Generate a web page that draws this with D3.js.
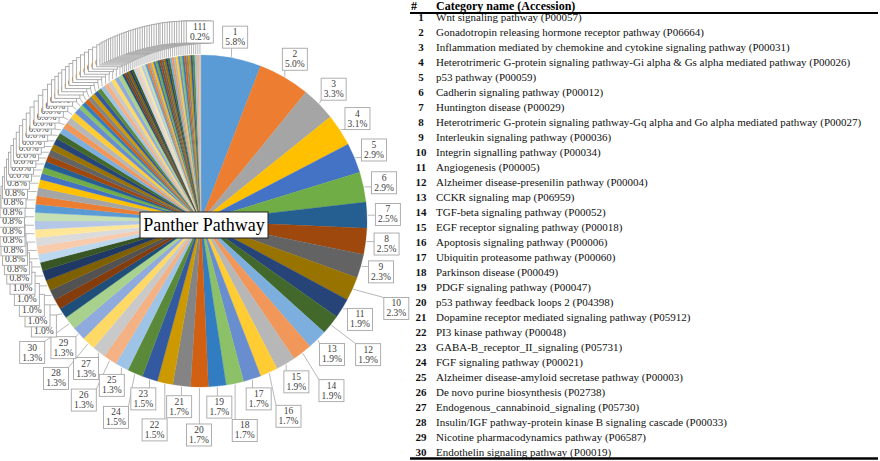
<!DOCTYPE html>
<html lang="en">
<head>
    <meta charset="utf-8">
    <script src="https://cdn.jsdelivr.net/npm/d3@7"></script>
    <style type="text/css">
        body { margin: 0; background: #fff; }
        svg { display: block; font-family: "Liberation Serif", "Times New Roman", serif; }
    </style>
</head>
<body>
    <script>
        // slice numbers 1..111, percentage of genes per pathway
        const sliceIds = d3.range(1, 112);
        const percents = [
            5.8, 5.0, 3.3, 3.1, 2.9, 2.9, 2.5, 2.5, 2.3, 2.3,
            1.9, 1.9, 1.9, 1.9, 1.9, 1.7, 1.7, 1.7, 1.7, 1.7,
            1.7, 1.5, 1.5, 1.5, 1.3, 1.3, 1.3, 1.3, 1.3, 1.3,
            1.0, 1.0, 1.0, 1.0, 1.0, 0.8, 0.8, 0.8, 0.8, 0.8,
            0.8, 0.8, 0.8, 0.8, 0.8, 0.8, 0.6, 0.6, 0.6, 0.6,
            0.6, 0.6, 0.6, 0.6, 0.6, 0.6, 0.6, 0.6, 0.6, 0.4,
            0.4, 0.4, 0.4, 0.4, 0.4, 0.4, 0.4, 0.4, 0.4, 0.4,
            0.4, 0.4, 0.2, 0.2, 0.2, 0.2, 0.2, 0.2, 0.2, 0.2,
            0.2, 0.2, 0.2, 0.2, 0.2, 0.2, 0.2, 0.2, 0.2, 0.2,
            0.2, 0.2, 0.2, 0.2, 0.2, 0.2, 0.2, 0.2, 0.2, 0.2,
            0.2, 0.2, 0.2, 0.2, 0.2, 0.2, 0.2, 0.2, 0.2, 0.2,
            0.2
        ];
        const tableIds = d3.range(1, 31);
        const pathwayNames = [
            "Wnt signaling pathway (P00057)",
            "Gonadotropin releasing hormone receptor pathway (P06664)",
            "Inflammation mediated by chemokine and cytokine signaling pathway (P00031)",
            "Heterotrimeric G-protein signaling pathway-Gi alpha & Gs alpha mediated pathway (P00026)",
            "p53 pathway (P00059)",
            "Cadherin signaling pathway (P00012)",
            "Huntington disease (P00029)",
            "Heterotrimeric G-protein signaling pathway-Gq alpha and Go alpha mediated pathway (P00027)",
            "Interleukin signaling pathway (P00036)",
            "Integrin signalling pathway (P00034)",
            "Angiogenesis (P00005)",
            "Alzheimer disease-presenilin pathway (P00004)",
            "CCKR signaling map (P06959)",
            "TGF-beta signaling pathway (P00052)",
            "EGF receptor signaling pathway (P00018)",
            "Apoptosis signaling pathway (P00006)",
            "Ubiquitin proteasome pathway (P00060)",
            "Parkinson disease (P00049)",
            "PDGF signaling pathway (P00047)",
            "p53 pathway feedback loops 2 (P04398)",
            "Dopamine receptor mediated signaling pathway (P05912)",
            "PI3 kinase pathway (P00048)",
            "GABA-B_receptor_II_signaling (P05731)",
            "FGF signaling pathway (P00021)",
            "Alzheimer disease-amyloid secretase pathway (P00003)",
            "De novo purine biosynthesis (P02738)",
            "Endogenous_cannabinoid_signaling (P05730)",
            "Insulin/IGF pathway-protein kinase B signaling cascade (P00033)",
            "Nicotine pharmacodynamics pathway (P06587)",
            "Endothelin signaling pathway (P00019)"
        ];

        // office chart colour cycle
        const palette = [
            "#5B9BD5", "#ED7D31", "#A5A5A5", "#FFC000", "#4472C4", "#70AD47",
            "#255E91", "#9E480E", "#636363", "#997300", "#264478", "#43682B",
            "#7CAFDD", "#F1975A", "#B7B7B7", "#FFCD33", "#698ED0", "#8CC168",
            "#327DC2", "#D26012", "#848484", "#CC9A00", "#335AA1", "#5A8A39",
            "#9DC3E6", "#F4B183", "#C9C9C9", "#FFD966", "#8FAADC", "#A9D18E",
            "#1F4E79", "#843C0C", "#525252", "#7F6000", "#203864", "#375623",
            "#BDD7EE", "#F8CBAD", "#DBDBDB", "#FFE699", "#B4C7E7", "#C5E0B4"
        ];

        let w = 880;
        let h = 461;
        let svg = d3.select("body")
                    .append("svg")
                    .attr("width", w)
                    .attr("height", h);

        let cx = 201, cy = 221, radius = 166;

        let pie = d3.pie().sort(null).value((d) => d.pct);
        let arcs = pie(sliceIds.map((id, i) => ({ id: id, pct: percents[i] })));
        let arc = d3.arc().innerRadius(0).outerRadius(radius);

        let g = svg.append("g").attr("transform", "translate(" + cx + "," + cy + ")");

        g.selectAll("path.slice")
            .data(arcs)
            .enter()
            .append("path")
            .attr("class", "slice")
            .attr("d", arc)
            .attr("fill", (d, i) => palette[i % palette.length])
            .attr("stroke", (d, i) => palette[i % palette.length])
            .attr("stroke-width", 0.3);

        // label radius: crowded labels alternate in / out, tiny ones stack
        let labelR = (i) => {
            if (i >= 30) return 189;
            if (i >= 9 && i % 2 === 1) return 214;
            return 187;
        };

        let bw = (i) => (i >= 99 ? 27 : 25);
        let bh = 22;

        let labels = arcs.map((d, i) => {
            let a = (d.startAngle + d.endAngle) / 2;
            let r = labelR(i);
            let x = Math.sin(a) * r, y = -Math.cos(a) * r;
            let ax = Math.sin(a) * (radius + 1), ay = -Math.cos(a) * (radius + 1);
            let x0 = x - bw(i) / 2, x1 = x + bw(i) / 2, y0 = y - bh / 2, y1 = y + bh / 2;
            let ex = Math.max(x0, Math.min(x1, ax));
            let ey = Math.max(y0, Math.min(y1, ay));
            return { d: d, i: i, x: x, y: y, ax: ax, ay: ay, ex: ex, ey: ey };
        });

        g.selectAll("line.leader")
            .data(labels)
            .enter()
            .append("line")
            .attr("class", "leader")
            .attr("x1", (l) => l.ax)
            .attr("y1", (l) => l.ay)
            .attr("x2", (l) => l.ex)
            .attr("y2", (l) => l.ey)
            .attr("stroke", "#a6a6a6")
            .attr("stroke-width", 0.8);

        let lab = g.selectAll("g.lab")
            .data(labels)
            .enter()
            .append("g")
            .attr("class", "lab")
            .attr("transform", (l) => "translate(" + l.x + "," + l.y + ")");

        lab.append("rect")
            .attr("x", (l) => -bw(l.i) / 2)
            .attr("y", -bh / 2)
            .attr("width", (l) => bw(l.i))
            .attr("height", bh)
            .attr("fill", "#fff")
            .attr("stroke", "#a6a6a6")
            .attr("stroke-width", 0.9);

        lab.append("text")
            .attr("y", -2)
            .attr("text-anchor", "middle")
            .attr("font-size", "9.5px")
            .attr("fill", "#404040")
            .text((l) => l.d.data.id);

        lab.append("text")
            .attr("y", 8)
            .attr("text-anchor", "middle")
            .attr("font-size", "9.5px")
            .attr("fill", "#404040")
            .text((l) => l.d.data.pct.toFixed(1) + "%");

        // chart title box
        svg.append("rect")
            .attr("x", 140)
            .attr("y", 212)
            .attr("width", 128)
            .attr("height", 26)
            .attr("fill", "#fff")
            .attr("stroke", "#222")
            .attr("stroke-width", 1);

        svg.append("text")
            .attr("x", 204)
            .attr("y", 231)
            .attr("text-anchor", "middle")
            .attr("font-size", "18px")
            .attr("fill", "#000")
            .text("Panther Pathway");

        // category table
        let rowY = d3.scalePoint().domain(tableIds).range([17.5, 452]);

        svg.append("text")
            .attr("x", 414)
            .attr("y", 10)
            .attr("text-anchor", "middle")
            .attr("font-size", "12px")
            .attr("font-weight", "bold")
            .text("#");

        svg.append("text")
            .attr("x", 436)
            .attr("y", 10)
            .attr("font-size", "12px")
            .attr("font-weight", "bold")
            .text("Category name (Accession)");

        svg.append("line")
            .attr("x1", 410).attr("x2", 878)
            .attr("y1", 13).attr("y2", 13)
            .attr("stroke", "#000")
            .attr("stroke-width", 2);

        svg.append("line")
            .attr("x1", 410).attr("x2", 878)
            .attr("y1", 458.5).attr("y2", 458.5)
            .attr("stroke", "#000")
            .attr("stroke-width", 2.5);

        svg.selectAll("text.num")
            .data(tableIds)
            .enter()
            .append("text")
            .attr("class", "num")
            .attr("x", 421)
            .attr("y", (d) => rowY(d) + 3.8)
            .attr("text-anchor", "middle")
            .attr("font-size", "11px")
            .attr("font-weight", "bold")
            .attr("fill", "#111")
            .text((d) => d);

        svg.selectAll("text.name")
            .data(tableIds)
            .enter()
            .append("text")
            .attr("class", "name")
            .attr("x", 436)
            .attr("y", (d) => rowY(d) + 3.8)
            .attr("font-size", "11px")
            .attr("fill", "#111")
            .text((d, i) => pathwayNames[i]);
    </script>
</body>
</html>
